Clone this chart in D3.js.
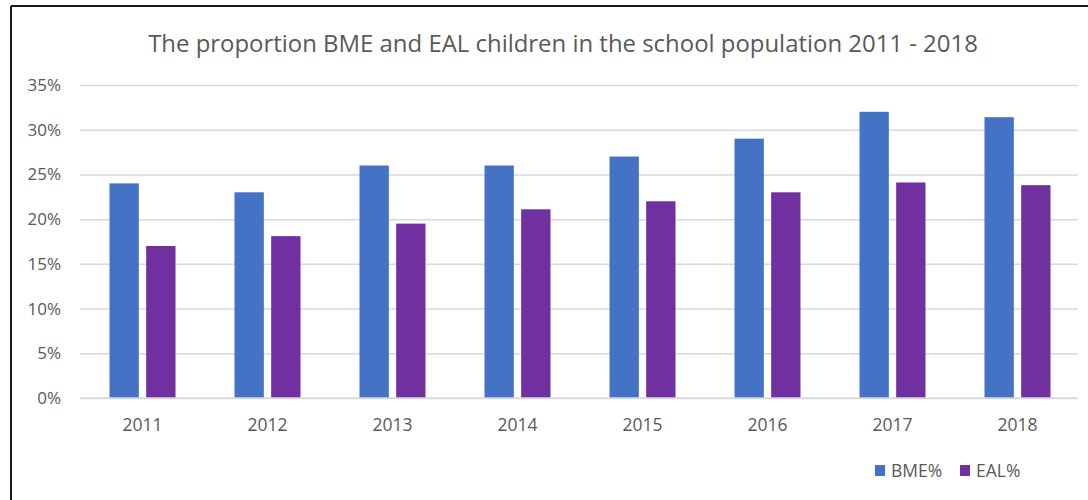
<!DOCTYPE html>
<html>
<head>
<meta charset="utf-8">
<script src="https://cdn.jsdelivr.net/npm/d3@7"></script>
<style>
html,body{margin:0;padding:0;background:#fff;}
svg{display:block;font-family:"Open Sans","Noto Sans",sans-serif;}
</style>
</head>
<body>
<svg id="c" width="1088" height="500"></svg>
<script>
const categories = ["2011","2012","2013","2014","2015","2016","2017","2018"];
const seriesNames = ["BME%","EAL%"];
const bmeValues = [24, 23, 26, 26, 27, 29, 32, 31.4];
const ealValues = [17, 18.1, 19.5, 21.1, 22, 23, 24.1, 23.8];
const yTicks = [0, 5, 10, 15, 20, 25, 30, 35];
const colors = ["#4472C4", "#7030A0"];
const titleText = "The proportion BME and EAL children in the school population 2011 - 2018";

(function () {
const svg = d3.select("#c");
const W = 1088, H = 500;
const FF = '"Open Sans","Noto Sans",sans-serif';
svg.append("rect").attr("width", W).attr("height", H).attr("fill", "#fff");

// outer frame
svg.append("line").attr("x1", 11).attr("x2", W).attr("y1", 6).attr("y2", 6)
  .attr("stroke", "#1a1a1a").attr("stroke-width", 2);
svg.append("line").attr("x1", 11).attr("x2", 11).attr("y1", 6).attr("y2", H)
  .attr("stroke", "#1a1a1a").attr("stroke-width", 2);

const mLeft = 80, mRight = 1078, mTop = 85, mBottom = 398;
const x = d3.scaleBand().domain(categories).range([mLeft, mRight + 2]).paddingInner(0).paddingOuter(0);
const y = d3.scaleLinear().domain([0, 35]).range([mBottom, mTop]);

// gridlines via axis
const gy = svg.append("g").attr("transform", `translate(${mLeft},0)`)
  .call(d3.axisLeft(y).tickValues(yTicks).tickSize(-(mRight - mLeft)).tickFormat(d => d + "%").tickPadding(19));
gy.attr("font-size", null).attr("font-family", null);
gy.select(".domain").remove();
gy.selectAll(".tick line").attr("stroke", "#d9d9d9").attr("stroke-width", 1.5);
gy.selectAll(".tick text").attr("fill", "#595959").style("font-size", "17px").style("font-family", FF);

// bars
const data = categories.map((c, i) => ({cat: c, vals: [bmeValues[i], ealValues[i]]}));
const inner = d3.scaleBand().domain(seriesNames).range([-33, 33]).paddingInner(0.2);
const groups = svg.append("g").selectAll("g").data(data).join("g")
  .attr("transform", d => `translate(${x(d.cat) + x.bandwidth() / 2},0)`);
groups.selectAll("rect").data(d => d.vals.map((v, k) => ({v, k})))
  .join("rect")
  .attr("x", d => inner(seriesNames[d.k]))
  .attr("width", inner.bandwidth())
  .attr("y", d => y(d.v))
  .attr("height", d => y(0) - y(d.v))
  .attr("fill", d => colors[d.k]);

// x axis
const gx = svg.append("g").attr("transform", `translate(0,${mBottom})`)
  .call(d3.axisBottom(x).tickSize(0).tickPadding(21));
gx.attr("font-size", null).attr("font-family", null);
gx.select(".domain").attr("stroke", "#d9d9d9").attr("stroke-width", 1.5)
  .attr("d", `M${mLeft},0H${mRight}`);
gx.selectAll(".tick text").attr("fill", "#595959").style("font-size", "17.5px").style("font-family", FF);

// title
const t = svg.append("text").attr("x", 563).attr("y", 52).attr("text-anchor", "middle")
  .attr("fill", "#595959").style("font-size", "20px").style("font-family", FF).text(titleText);
const tl = t.node().getComputedTextLength();
if (tl > 0) t.style("font-size", (20 * 830 / tl).toFixed(2) + "px");

// legend
const legendX = [875, 960];
const lg = svg.append("g");
seriesNames.forEach((s, i) => {
  lg.append("rect").attr("x", legendX[i]).attr("y", 465).attr("width", 10).attr("height", 11).attr("fill", colors[i]);
  lg.append("text").attr("x", legendX[i] + 16).attr("y", 476.5).attr("fill", "#595959")
    .style("font-size", "17.5px").style("font-family", FF).text(s);
});
})();
</script>
</body>
</html>
